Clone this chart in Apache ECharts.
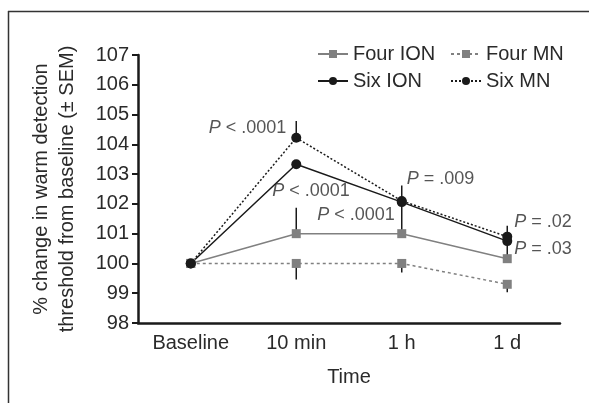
<!DOCTYPE html>
<html>
<head>
<meta charset="utf-8">
<script src="https://cdn.jsdelivr.net/npm/echarts@6/dist/echarts.min.js"></script>
<style>
  html, body { margin: 0; padding: 0; background: #fff; }
  #chart { width: 589px; height: 403px; }
</style>
</head>
<body>
<div id="chart"></div>
<script>
(function() {
  var categories = ['Baseline', '10 min', '1 h', '1 d'];
  var fourIon = [100, 101.0, 101.0, 100.16];
  var fourMn = [100, 100, 100, 99.3];
  var sixIon = [100, 103.33, 102.06, 100.75];
  var sixMn = [100, 104.22, 102.1, 100.9];
  // error bars: [category index, low, high]
  var errBars = [
    [1, 104.22, 104.78],
    [1, 101.0, 101.87],
    [1, 99.46, 100],
    [2, 101.0, 102.62],
    [2, 99.7, 100],
    [3, 100.16, 101.27],
    [3, 99.03, 99.3]
  ];
  // p-value notes: [category index, value, text, align, dx]
  var notes = [
    [1, 104.56, '< .0001', 'right', -10],
    [1, 102.42, '< .0001', 'left', -24],
    [2, 101.62, '< .0001', 'right', -7],
    [2, 102.82, '= .009', 'left', 5],
    [3, 101.38, '= .02', 'left', 7],
    [3, 100.47, '= .03', 'left', 7]
  ];
  var yTicks = [98, 107, 1];

  var ink = '#1a1a1a';
  var grey = '#808080';
  var text = '#2a2a2a';
  var font = 'Liberation Sans';

  var chart = echarts.init(document.getElementById('chart'), null, { renderer: 'canvas' });

  function lineSeries(name, data, color, type, symbol, size) {
    return {
      name: name, type: 'line', data: data,
      symbol: symbol, symbolSize: size,
      itemStyle: { color: color },
      lineStyle: { color: color, width: 1.5, type: type },
      z: 3
    };
  }

  function legendCol(left, names) {
    return {
      orient: 'vertical', top: 39, left: left,
      itemWidth: 30, itemHeight: 10, itemGap: 7,
      textStyle: { fontSize: 20, color: text, fontFamily: font },
      data: names
    };
  }

  chart.setOption({
    animation: false,
    textStyle: { fontFamily: font },
    legend: [legendCol(312, ['Four ION', 'Six ION']), legendCol(445, ['Four MN', 'Six MN'])],
    grid: { left: 138, right: 29, top: 55, bottom: 80 },
    xAxis: {
      type: 'category', data: categories, boundaryGap: true,
      name: 'Time', nameLocation: 'middle', nameGap: 44,
      nameTextStyle: { fontSize: 20, color: text },
      axisLine: { lineStyle: { color: ink, width: 2.5 } },
      axisTick: { alignWithLabel: true, length: 6, lineStyle: { color: ink, width: 2 } },
      axisLabel: { fontSize: 20, color: text, margin: 10 },
      splitLine: { show: false }
    },
    yAxis: {
      type: 'value', min: yTicks[0], max: yTicks[1], interval: yTicks[2],
      name: '% change in warm detection\nthreshold from baseline (\u00b1 SEM)',
      nameLocation: 'middle', nameGap: 58, nameMoveOverlap: false,
      nameTextStyle: { fontSize: 20, color: text, lineHeight: 26 },
      axisLine: { show: true, lineStyle: { color: ink, width: 2.5 } },
      axisTick: { show: true, length: 6, lineStyle: { color: ink, width: 2 } },
      axisLabel: { fontSize: 20, color: text, margin: 9 },
      splitLine: { show: false }
    },
    graphic: [
      { type: 'line', shape: { x1: 8.5, y1: 11, x2: 8.5, y2: 403 }, style: { stroke: '#333', lineWidth: 1.5 } },
      { type: 'line', shape: { x1: 8, y1: 11.5, x2: 589, y2: 11.5 }, style: { stroke: '#333', lineWidth: 1.5 } }
    ],
    series: [
      {
        name: 'errors', type: 'custom', data: errBars, z: 2,
        encode: { x: 0, y: [1, 2] },
        renderItem: function(params, api) {
          var a = api.coord([api.value(0), api.value(1)]);
          var b = api.coord([api.value(0), api.value(2)]);
          return { type: 'line', shape: { x1: a[0], y1: a[1], x2: b[0], y2: b[1] },
                   style: { stroke: ink, lineWidth: 1.5 } };
        }
      },
      lineSeries('Four ION', fourIon, grey, 'solid', 'rect', 9),
      lineSeries('Four MN', fourMn, grey, [3, 3], 'rect', 9),
      lineSeries('Six ION', sixIon, ink, 'solid', 'circle', 10),
      lineSeries('Six MN', sixMn, ink, [2, 2], 'circle', 10),
      {
        name: 'notes', type: 'scatter', symbolSize: 0, z: 5, silent: true,
        data: notes.map(function(n) {
          return {
            value: [n[0], n[1]],
            label: { show: true, position: 'inside', align: n[3], offset: [n[4], 0],
                     formatter: '{i|P} ' + n[2] }
          };
        }),
        label: {
          fontSize: 18, color: text, verticalAlign: 'middle',
          rich: { i: { fontStyle: 'italic', fontSize: 18, color: text } }
        }
      }
    ]
  });
  window.addEventListener('resize', function() { chart.resize(); });
})();
</script>
</body>
</html>
